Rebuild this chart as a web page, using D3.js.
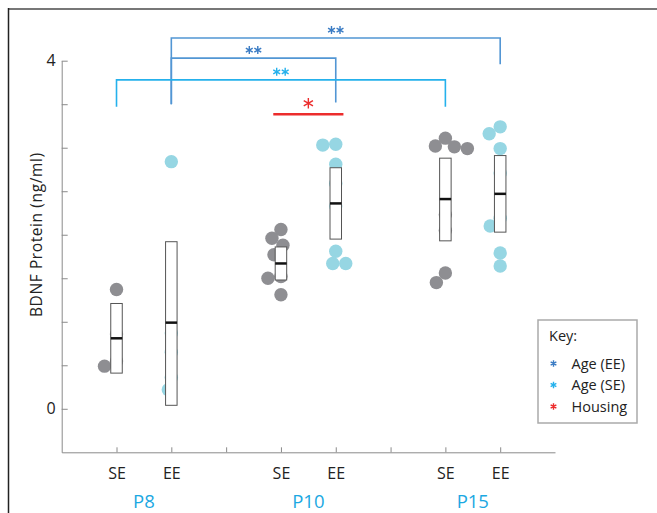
<!DOCTYPE html>
<html>
<head>
<meta charset="utf-8">
<script src="https://cdn.jsdelivr.net/npm/d3@7"></script>
<style>
  body { margin: 0; background: #fff; }
  svg { display: block; font-family: "Open Sans", sans-serif; }
</style>
</head>
<body>
<div id="chart"></div>
<script>
// ages and housing conditions
const ages = ['P8', 'P10', 'P15'];
const housing = ['SE', 'EE'];

// individual samples, BDNF ng/ml
const seValues = [
  [1.37, 0.86, 0.55, 0.49],
  [2.06, 1.96, 1.88, 1.77, 1.52, 1.50, 1.31],
  [3.11, 3.02, 3.01, 2.99, 2.23, 2.05, 1.56, 1.45]
];
const eeValues = [
  [2.84, 0.87, 0.65, 0.36, 0.22],
  [3.04, 3.03, 2.81, 2.59, 2.33, 1.81, 1.67, 1.67],
  [3.24, 3.16, 2.99, 2.71, 2.19, 2.10, 1.79, 1.64]
];

// boxes, order: P8 SE, P8 EE, P10 SE, P10 EE, P15 SE, P15 EE
const boxLow  = [0.41, 0.04, 1.48, 1.95, 1.93, 2.03];
const boxMid  = [0.81, 0.99, 1.67, 2.36, 2.41, 2.47];
const boxHigh = [1.21, 1.92, 1.86, 2.77, 2.88, 2.91];

const yTicks = [0, 0.5, 1, 1.5, 2, 2.5, 3, 3.5, 4];
const yLabels = { 0: '0', 4: '4' };

// significance brackets (between two conditions)
const brackets = [
  { from: 'P8 EE', to: 'P15 EE', level: 4.26, footFrom: 3.50, footTo: 3.96, kind: 'EE', stars: 2 },
  { from: 'P8 EE', to: 'P10 EE', level: 4.03, footFrom: 3.50, footTo: 3.52, kind: 'EE', stars: 2 },
  { from: 'P8 SE', to: 'P15 SE', level: 3.78, footFrom: 3.47, footTo: 3.47, kind: 'SE', stars: 2 }
];
const housingBar = { age: 'P10', level: 3.385 };

const legendItems = ['Age (EE)', 'Age (SE)', 'Housing'];

const colors = {
  EE: '#5296d4', EEstar: '#3b7cc4', SE: '#25b1ec', housing: '#ec2c2c',
  seDot: '#8e8e92', eeDot: '#96d6e3'
};

const width = 657, height = 513;
const svg = d3.select('#chart').append('svg')
  .attr('width', width)
  .attr('height', height);

// frame
svg.append('line').attr('x1', 8).attr('x2', width).attr('y1', 9).attr('y2', 9)
  .attr('stroke', '#777').attr('stroke-width', 2);
svg.append('line').attr('x1', 8.5).attr('x2', 8.5).attr('y1', 8).attr('y2', height)
  .attr('stroke', '#222').attr('stroke-width', 1.5);

const x = d3.scaleLinear().domain([0, 9]).range([61.7, 555]);
const y = d3.scaleLinear().domain([-0.5, 4]).range([452.3, 60.7]);

// position of a condition on the x scale
const pos = (a, h) => a * 3 + h + 1;
const posOf = name => {
  const [a, h] = name.split(' ');
  return pos(ages.indexOf(a), housing.indexOf(h));
};

// axes
const yAxis = svg.append('g')
  .attr('transform', `translate(${x(0)},0)`)
  .call(d3.axisLeft(y).tickValues(yTicks).tickSize(-6).tickSizeOuter(0).tickPadding(6)
    .tickFormat(d => yLabels[d] || ''));
const xAxis = svg.append('g')
  .attr('transform', `translate(0,${y(-0.5)})`)
  .call(d3.axisBottom(x).tickValues([1, 2, 3, 4, 5, 6, 7, 8]).tickSize(-5).tickSizeOuter(0).tickPadding(15)
    .tickFormat(d => (d % 3 === 0 ? '' : housing[(d - 1) % 3])));

[yAxis, xAxis].forEach(ax => {
  ax.select('.domain').attr('stroke', '#8a8a8a');
  ax.selectAll('.tick line').attr('stroke', '#8a8a8a');
  ax.selectAll('.tick text').attr('fill', '#222').attr('font-size', 16)
    .attr('font-family', '"Open Sans", sans-serif');
});

svg.append('text')
  .attr('transform', `translate(42,${y(2.0)}) rotate(-90)`)
  .attr('text-anchor', 'middle')
  .attr('font-size', 15.5)
  .attr('letter-spacing', 0.6)
  .attr('fill', '#222')
  .text('BDNF Protein (ng/ml)');

// age labels
svg.selectAll('.age-label')
  .data(ages)
  .join('text')
  .attr('class', 'age-label')
  .attr('x', (d, i) => x(pos(i, 0) + 0.5))
  .attr('y', 507.5)
  .attr('text-anchor', 'middle')
  .attr('font-size', 18.5)
  .attr('fill', '#1ba8e2')
  .text(d => d);

// simple beeswarm: spread overlapping dots sideways
function swarm(values, cx, minDist) {
  const placed = [];
  values.slice().sort((a, b) => b - a).forEach(v => {
    const cy = y(v);
    for (let k = 0; k < 80; k++) {
      const dx = k === 0 ? 0 : (k % 2 ? -1 : 1) * Math.ceil(k / 2);
      const ok = placed.every(p => Math.hypot(p.x - (cx + dx), p.y - cy) >= minDist);
      if (ok) { placed.push({ x: cx + dx, y: cy, v }); break; }
    }
  });
  return placed;
}

const dots = [];
ages.forEach((a, i) => {
  swarm(seValues[i], x(pos(i, 0)), 12.5).forEach(p => dots.push({ ...p, h: 'SE' }));
  swarm(eeValues[i], x(pos(i, 1)), 12.5).forEach(p => dots.push({ ...p, h: 'EE' }));
});

svg.append('g').selectAll('circle')
  .data(dots)
  .join('circle')
  .attr('cx', d => d.x)
  .attr('cy', d => d.y)
  .attr('r', 6.7)
  .attr('fill', d => d.h === 'SE' ? colors.seDot : colors.eeDot);

// boxes
const boxW = 11.5;
const boxes = boxMid.map((m, i) => ({ p: Math.floor(i / 2) * 3 + (i % 2) + 1, lo: boxLow[i], mid: m, hi: boxHigh[i] }));
const boxG = svg.append('g').selectAll('g').data(boxes).join('g');
boxG.append('rect')
  .attr('x', d => x(d.p) - boxW / 2)
  .attr('y', d => y(d.hi))
  .attr('width', boxW)
  .attr('height', d => y(d.lo) - y(d.hi))
  .attr('fill', '#fff')
  .attr('stroke', '#555')
  .attr('stroke-width', 1);
boxG.append('line')
  .attr('x1', d => x(d.p) - boxW / 2)
  .attr('x2', d => x(d.p) + boxW / 2)
  .attr('y1', d => y(d.mid))
  .attr('y2', d => y(d.mid))
  .attr('stroke', '#111')
  .attr('stroke-width', 2.5);

// stars
const star = d3.symbol().type(d3.symbolAsterisk);
function drawStars(g, cx, cy, n, size, color) {
  const gap = 8.5;
  for (let k = 0; k < n; k++) {
    g.append('path')
      .attr('d', star.size(size)())
      .attr('transform', `translate(${cx + (k - (n - 1) / 2) * gap},${cy})`)
      .attr('fill', 'none')
      .attr('stroke', color)
      .attr('stroke-width', 1.4);
  }
}

// brackets
const brG = svg.append('g');
brackets.forEach(b => {
  const x1 = x(posOf(b.from)), x2 = x(posOf(b.to));
  const col = b.kind === 'EE' ? colors.EE : colors.SE;
  brG.append('path')
    .attr('d', d3.line()([[x1, y(b.footFrom)], [x1, y(b.level)], [x2, y(b.level)], [x2, y(b.footTo)]]))
    .attr('fill', 'none')
    .attr('stroke', col)
    .attr('stroke-width', 1.6);
  drawStars(brG, (x1 + x2) / 2, y(b.level) - 8, b.stars, 44, b.kind === 'EE' ? colors.EEstar : colors.SE);
});

// housing difference at P10
const hp = pos(ages.indexOf(housingBar.age), 0) + 0.5;
brG.append('line')
  .attr('x1', x(hp - 0.64)).attr('x2', x(hp + 0.64))
  .attr('y1', y(housingBar.level)).attr('y2', y(housingBar.level))
  .attr('stroke', colors.housing).attr('stroke-width', 2.6);
drawStars(brG, x(hp), y(housingBar.level) - 11, 1, 80, colors.housing);

// legend
const lg = svg.append('g').attr('transform', 'translate(538,320)');
lg.append('rect').attr('width', 99).attr('height', 103)
  .attr('fill', '#fff').attr('stroke', '#aaa').attr('stroke-width', 1.5);
lg.append('text').attr('x', 11).attr('y', 21).attr('font-size', 14.5).attr('fill', '#222').text('Key:');
const legendColors = [colors.EEstar, colors.SE, colors.housing];
legendItems.forEach((t, i) => {
  const ly = 43.5 + i * 21.5;
  drawStars(lg, 15.5, ly, 1, 30, legendColors[i]);
  lg.append('text').attr('x', 33.5).attr('y', ly + 5)
    .attr('font-size', 14.5).attr('fill', '#222').text(t);
});
</script>
</body>
</html>
